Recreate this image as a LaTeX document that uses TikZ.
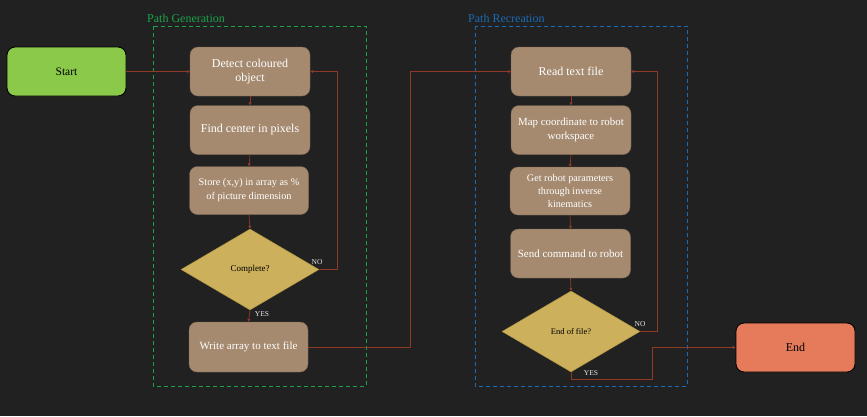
\documentclass[tikz,border=0pt]{standalone}
\usepackage{fontspec}
\setmainfont{Liberation Serif}
\usetikzlibrary{arrows.meta,shapes.geometric}
\definecolor{bg}{HTML}{212121}
\definecolor{boxfill}{HTML}{A58A70}
\definecolor{boxline}{HTML}{7D6752}
\definecolor{dia}{HTML}{CCB05C}
\definecolor{dialine}{HTML}{A8903F}
\definecolor{arr}{HTML}{8E3A26}
\definecolor{startc}{HTML}{8BC94A}
\definecolor{endc}{HTML}{E57B5A}
\definecolor{gen}{HTML}{1AA34A}
\definecolor{rec}{HTML}{1A6BB5}
\definecolor{lbl}{HTML}{E8E8E8}
\begin{document}
\begin{tikzpicture}[x=1pt,y=-1pt,
  proc/.style={draw=boxline, fill=boxfill, rounded corners=8pt, minimum width=120pt, minimum height=49pt, text=white, align=center, inner sep=0pt},
  term/.style={draw=black, line width=0.9pt, rounded corners=8pt, minimum width=119pt, minimum height=49pt, align=center, text=black, inner sep=0pt},
  dec/.style={diamond, draw=dialine, fill=dia, minimum width=138pt, minimum height=81pt, inner sep=0pt, text=black, font=\fontsize{9}{11}\selectfont},
  conn/.style={draw=arr, line width=0.7pt, -{Triangle[length=3pt,width=3pt]}},
  grp/.style={dash pattern=on 4pt off 3pt, line width=0.8pt},
  yn/.style={text=lbl, font=\fontsize{7.5}{9}\selectfont, inner sep=0pt},
  title/.style={anchor=west, inner sep=0pt, font=\fontsize{12}{14}\selectfont}
]
\fill[bg] (0,0) rectangle (867,416);
\useasboundingbox (0,0) rectangle (867,416);

% groups
\draw[grp, gen] (153,26) rectangle (366,386);
\node[title, text=gen] (tgen) at (147,18) {Path Generation};
\draw[grp, rec] (475,26) rectangle (687,386);
\node[title, text=rec] (trec) at (468,18) {Path Recreation};

% terminals
\node[term, fill=startc, font=\fontsize{11.5}{13}\selectfont] (start) at (66.5,71.5) {Start};
\node[term, fill=endc, font=\fontsize{12}{14}\selectfont] (end) at (795.5,347.5) {End};

% path generation
\node[proc, font=\fontsize{12}{14}\selectfont] (detect) at (250,71.5) {Detect coloured\\object};
\node[proc, font=\fontsize{12}{14}\selectfont] (find) at (250,130) {Find center in pixels};
\node[proc, minimum width=119pt, minimum height=48pt, font=\fontsize{10.3}{14}\selectfont] (store) at (249,190.5) {Store (x,y) in array as \%\\of picture dimension};
\node[dec] (complete) at (250,269.5) {Complete?};
\node[proc, minimum width=119pt, minimum height=50pt, font=\fontsize{11}{13}\selectfont] (write) at (248.5,347) {Write array to text file};

% path recreation
\node[proc, font=\fontsize{12}{14}\selectfont] (read) at (571,71.5) {Read text file};
\node[proc, font=\fontsize{10.9}{13.5}\selectfont] (map) at (571,130) {Map coordinate to robot\\workspace};
\node[proc, minimum height=48pt, font=\fontsize{10.2}{12.8}\selectfont] (getp) at (570,191) {Get robot parameters\\through inverse\\kinematics};
\node[proc, font=\fontsize{11}{13}\selectfont] (send) at (570.5,253.5) {Send command to robot};
\node[dec, font=\fontsize{8.5}{10}\selectfont] (eof) at (571,331.5) {End of file?};

% connectors
\draw[conn] (start) -- (detect);
\draw[conn] (detect) -- (find);
\draw[conn] (find.south) -- (store.north);
\draw[conn] (store.south) -- (complete.north);
\draw[conn] (complete.south) -- (write.north);
\draw[conn] (complete.east) -- ++(18,0) |- (detect.east);
\draw[conn] (write.east) -- ++(102,0) |- (read.west);

\draw[conn] (read) -- (map);
\draw[conn] (map.south) -- (getp.north);
\draw[conn] (getp.south) -- (send.north);
\draw[conn] (send.south) -- (eof.north);
\draw[conn] (eof.east) -- ++(17,0) |- (read.east);
\draw[conn] (eof.south) -- ++(0,7.5) -| ([xshift=-83pt]end.west) -- (end.west);

% labels
\node[yn] (no1) at (317,262) {NO};
\node[yn] (yes1) at (262,314.5) {YES};
\node[yn] (no2) at (640,324) {NO};
\node[yn] (yes2) at (591,373) {YES};
\end{tikzpicture}
\end{document}
